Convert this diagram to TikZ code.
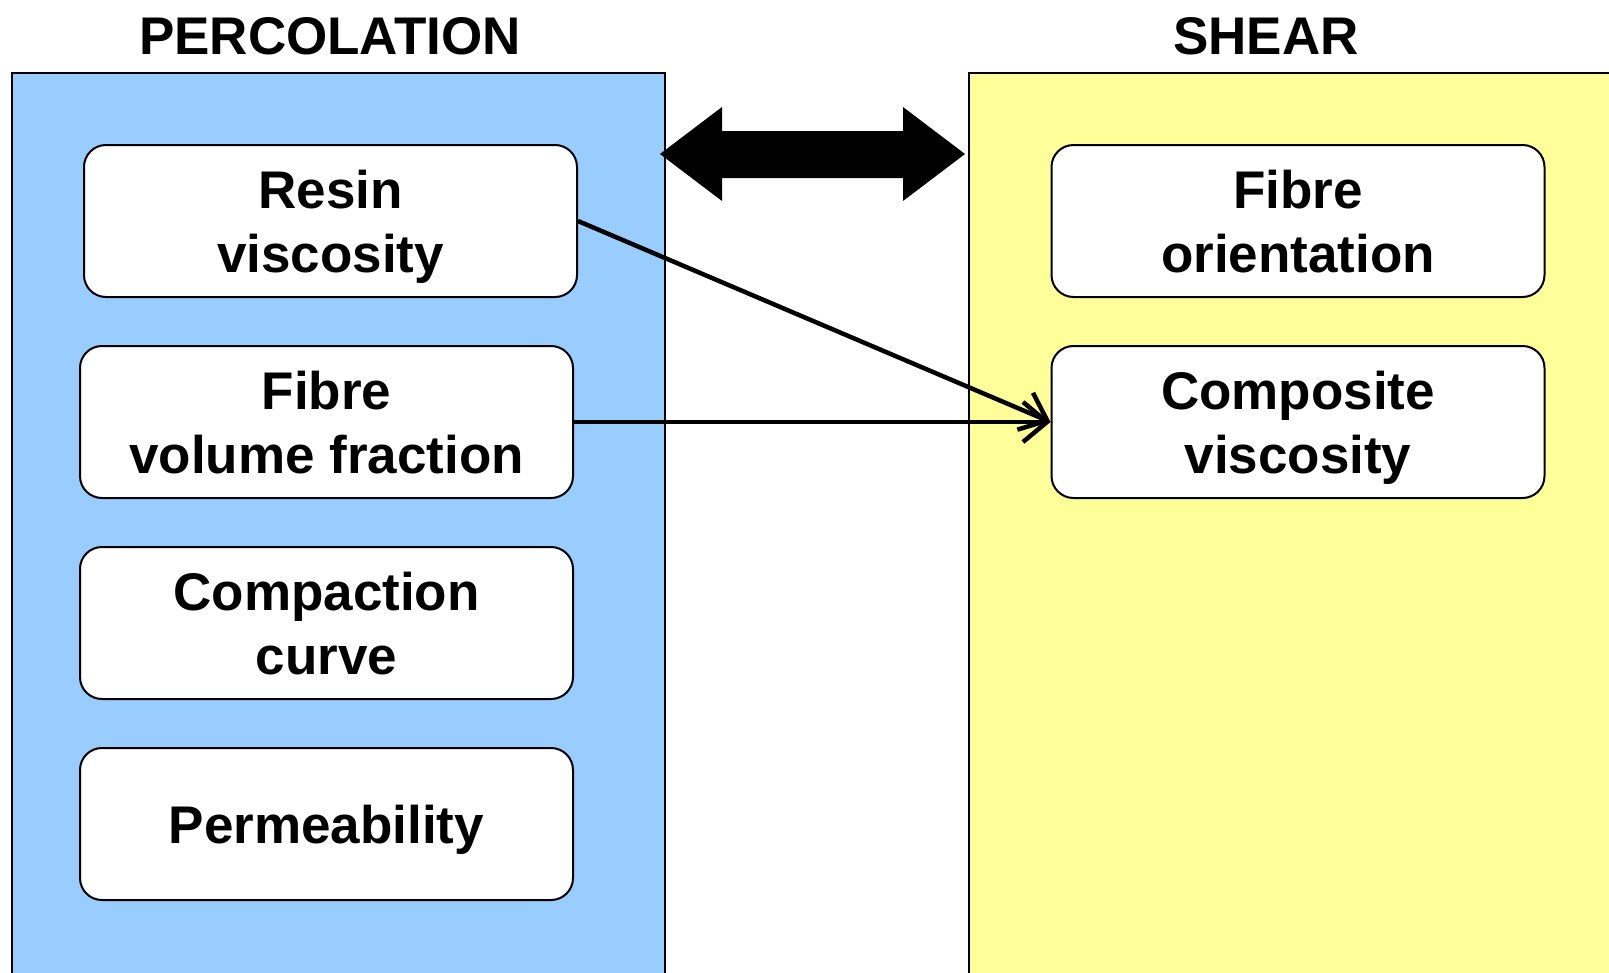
\documentclass[tikz,border=0pt]{standalone}
\usepackage{fontspec}
\setmainfont{Liberation Sans}
\usepackage{tikz}
\usetikzlibrary{arrows.meta}

\definecolor{azul}{HTML}{99CCFF}
\definecolor{amarelo}{HTML}{FFFF99}

\begin{document}
\begin{tikzpicture}[x=1pt, y=-1pt,
	caixa/.style={draw, line width=2pt, fill=white, rounded corners=22pt,
		minimum width=493pt, minimum height=152pt, align=center, text depth=0pt,
		font=\bfseries\fontsize{53}{64}\selectfont},
	titulo/.style={font=\bfseries\fontsize{53}{64}\selectfont},
	seta/.style={line width=4.5pt, -{Straight Barb[length=24pt, width=40pt, line width=4.5pt]}}]
			\useasboundingbox (0, 0) rectangle (1609, 972);
			\clip (0, 0) rectangle (1609, 972);
			% painéis
			\draw[line width=1.2pt, fill=azul] (12, 73) rectangle (665, 1000);
			\draw[line width=1.2pt, fill=amarelo] (969, 73) rectangle (1640, 1000);
			% títulos
			\node[titulo] (perc) at (330, 36) {PERCOLATION};
			\node[titulo] (shear) at (1266, 36) {SHEAR};
			% seta dupla
			\fill (660, 154) -- (722, 107) -- (722, 131) -- (903, 131) -- (903, 107) -- (965, 154)
				-- (903, 201) -- (903, 178) -- (722, 178) -- (722, 201) -- cycle;
			% caixas
			\node[caixa] (resina) at (330.5, 221) {Resin\\viscosity};
			\node[caixa] (fracao) at (326.5, 422) {Fibre\\volume fraction};
			\node[caixa] (compac) at (326.5, 623) {Compaction\\curve};
			\node[caixa] (perm) at (326.5, 824) {Permeability};
			\node[caixa] (orient) at (1298, 221) {Fibre\\orientation};
			\node[caixa] (comp) at (1298, 422) {Composite\\viscosity};
			% setas
			\draw[seta] (resina.east) -- (comp.west);
			\draw[seta] (fracao.east) -- (comp.west);
		\end{tikzpicture}
\end{document}
